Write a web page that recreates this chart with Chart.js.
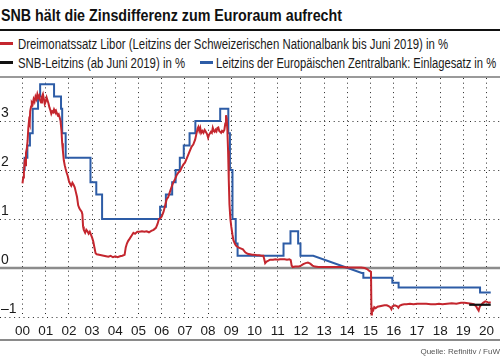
<!DOCTYPE html>
<html><head><meta charset="utf-8">
<script src="https://cdn.jsdelivr.net/npm/chart.js@4"></script>
<style>
html,body{margin:0;padding:0;background:#fff;}
body{width:500px;height:358px;position:relative;overflow:hidden;font-family:'Liberation Sans',Arial,sans-serif;color:#1a1a1a;}
.abs{position:absolute;white-space:nowrap;}
.narrow{transform-origin:0 0;}
#title{left:1px;top:7px;font-weight:bold;font-size:16.5px;line-height:17px;color:#111;transform:scaleX(0.865);}
.rule{position:absolute;left:0;width:500px;}
.leg{font-size:14px;line-height:14px;color:#1a1a1a;transform:scaleX(0.813);}
.sw{position:absolute;height:3px;width:13px;}
#src{right:0;top:348px;font-size:8px;line-height:8px;color:#555;}
#wrap{position:absolute;left:0;top:78px;width:500px;height:262px;}
</style></head>
<body>
<div id="title" class="abs narrow">SNB hält die Zinsdifferenz zum Euroraum aufrecht</div>
<div class="rule" style="top:29px;height:2px;background:#111;"></div>
<div class="sw" style="left:0;top:42px;background:#c4262e;"></div>
<div class="abs leg narrow" style="left:18px;top:36.5px;">Dreimonatssatz Libor (Leitzins der Schweizerischen Nationalbank bis Juni 2019) in %</div>
<div class="sw" style="left:0;top:61px;background:#111;"></div>
<div class="abs leg narrow" style="left:18px;top:55.5px;">SNB-Leitzins (ab Juni 2019) in %</div>
<div class="sw" style="left:200px;top:61px;background:#2d5ca6;"></div>
<div class="abs leg narrow" style="left:216px;top:55.5px;transform:scaleX(0.80);">Leitzins der Europäischen Zentralbank: Einlagesatz in %</div>
<div class="rule" style="top:76px;height:1.5px;background:#9a9a9a;"></div>
<div id="wrap"><canvas id="c" width="500" height="262"></canvas></div>
<div class="rule" style="top:339px;height:1.5px;background:#8a8a8a;"></div>
<div id="src" class="abs">Quelle: Refinitiv / FuW</div>
<script>
// ---- data ----
const tickYears = [2000,2001,2002,2003,2004,2005,2006,2007,2008,2009,2010,2011,2012,2013,2014,2015,2016,2017,2018,2019,2020];
const xTickLabels = ['00','01','02','03','04','05','06','07','08','09','10','11','12','13','14','15','16','17','18','19','20'];
const yTicks = [-1,0,1,2,3];
const yTickLabels = ['–1','0','1','2','3'];

// Dreimonatssatz Libor [year, %]
const libor = [
[2000.00,1.73],[2000.03,1.85],[2000.06,1.95],[2000.09,2.15],[2000.12,2.10],[2000.15,2.35],[2000.19,2.45],[2000.22,2.60],
[2000.25,2.85],[2000.28,3.00],[2000.31,2.95],[2000.33,3.20],[2000.37,3.30],[2000.40,3.38],[2000.44,3.35],[2000.48,3.45],
[2000.52,3.40],[2000.56,3.50],[2000.60,3.45],[2000.64,3.55],[2000.68,3.48],[2000.72,3.52],[2000.76,3.42],[2000.80,3.38],
[2000.84,3.50],[2000.88,3.55],[2000.92,3.45],[2000.96,3.35],[2001.00,3.40],[2001.04,3.48],[2001.08,3.42],[2001.12,3.36],
[2001.16,3.28],[2001.20,3.22],[2001.24,3.15],[2001.28,3.20],[2001.32,3.18],[2001.36,3.24],[2001.40,3.20],[2001.44,3.22],
[2001.48,3.16],[2001.52,3.12],[2001.56,3.14],[2001.60,3.08],[2001.64,3.00],[2001.68,2.80],[2001.71,2.55],[2001.74,2.40],
[2001.78,2.20],[2001.82,2.10],[2001.86,2.02],[2001.90,1.95],[2001.95,1.88],[2002.00,1.78],[2002.05,1.72],[2002.10,1.68],
[2002.15,1.74],[2002.20,1.70],[2002.25,1.65],[2002.30,1.55],[2002.35,1.45],[2002.40,1.28],[2002.45,1.22],[2002.50,1.18],
[2002.55,1.15],[2002.58,1.10],[2002.61,0.85],[2002.64,0.78],[2002.70,0.72],[2002.75,0.78],[2002.80,0.75],[2002.85,0.70],
[2002.90,0.74],[2002.95,0.68],[2003.00,0.62],[2003.05,0.54],[2003.10,0.42],[2003.15,0.30],[2003.20,0.28],[2003.30,0.27],
[2003.40,0.26],[2003.50,0.25],[2003.60,0.24],[2003.70,0.23],[2003.80,0.25],[2003.90,0.22],[2004.00,0.24],[2004.10,0.22],
[2004.20,0.24],[2004.30,0.25],[2004.40,0.27],[2004.45,0.42],[2004.50,0.50],[2004.55,0.55],[2004.62,0.60],[2004.70,0.66],
[2004.78,0.72],[2004.85,0.70],[2004.95,0.74],[2005.05,0.74],[2005.15,0.75],[2005.25,0.74],[2005.35,0.75],[2005.45,0.73],
[2005.55,0.76],[2005.65,0.78],[2005.75,0.82],[2005.82,0.90],[2005.88,1.00],[2005.95,1.02],[2006.00,1.05],[2006.08,1.15],
[2006.15,1.28],[2006.21,1.40],[2006.28,1.45],[2006.35,1.55],[2006.42,1.65],[2006.50,1.75],[2006.58,1.82],[2006.65,1.90],
[2006.72,1.95],[2006.79,1.98],[2006.86,2.05],[2006.93,2.11],[2007.00,2.15],[2007.08,2.24],[2007.15,2.32],[2007.22,2.40],
[2007.29,2.48],[2007.36,2.52],[2007.44,2.62],[2007.50,2.75],[2007.55,2.85],[2007.58,2.88],[2007.62,2.80],[2007.66,2.86],
[2007.70,2.76],[2007.75,2.80],[2007.80,2.76],[2007.85,2.82],[2007.90,2.78],[2007.95,2.74],[2008.00,2.66],[2008.04,2.72],
[2008.08,2.72],[2008.12,2.78],[2008.16,2.76],[2008.20,2.86],[2008.24,2.80],[2008.28,2.78],[2008.32,2.82],[2008.36,2.79],
[2008.40,2.86],[2008.44,2.87],[2008.48,2.80],[2008.52,2.78],[2008.56,2.76],[2008.60,2.80],[2008.65,2.78],[2008.70,2.82],
[2008.74,2.95],[2008.77,3.12],[2008.80,3.05],[2008.83,2.82],[2008.86,2.40],[2008.89,1.80],[2008.92,1.30],[2008.96,1.00],
[2009.00,0.84],[2009.05,0.68],[2009.09,0.57],[2009.15,0.50],[2009.20,0.46],[2009.30,0.42],[2009.40,0.40],[2009.50,0.38],
[2009.60,0.32],[2009.70,0.29],[2009.80,0.28],[2009.90,0.27],[2010.00,0.27],[2010.10,0.26],[2010.20,0.26],[2010.30,0.25],
[2010.38,0.25],[2010.42,0.18],[2010.46,0.10],[2010.52,0.13],[2010.60,0.15],[2010.67,0.17],[2010.80,0.17],[2010.90,0.18],
[2011.00,0.17],[2011.10,0.18],[2011.20,0.18],[2011.30,0.18],[2011.40,0.17],[2011.50,0.18],[2011.56,0.16],[2011.60,0.05],
[2011.65,0.02],[2011.75,0.03],[2011.90,0.03],[2012.00,0.05],[2012.10,0.08],[2012.20,0.10],[2012.30,0.11],[2012.40,0.09],
[2012.50,0.05],[2012.60,0.03],[2012.75,0.02],[2013.00,0.02],[2013.20,0.02],[2013.40,0.02],[2013.60,0.02],[2013.80,0.02],
[2014.00,0.01],[2014.20,0.01],[2014.40,0.01],[2014.60,0.01],[2014.75,0.00],[2014.85,-0.02],[2014.95,-0.06],[2015.02,-0.08],
[2015.04,-0.95],[2015.06,-0.88],[2015.09,-0.84],[2015.12,-0.86],[2015.16,-0.80],[2015.22,-0.82],[2015.30,-0.79],[2015.40,-0.78],
[2015.50,-0.77],[2015.60,-0.76],[2015.70,-0.76],[2015.78,-0.78],[2015.85,-0.80],[2015.90,-0.84],[2015.95,-0.78],[2016.05,-0.76],
[2016.15,-0.78],[2016.20,-0.81],[2016.25,-0.77],[2016.35,-0.75],[2016.45,-0.74],[2016.55,-0.74],[2016.70,-0.73],[2016.85,-0.74],
[2017.00,-0.73],[2017.20,-0.73],[2017.40,-0.73],[2017.60,-0.74],[2017.80,-0.74],[2017.95,-0.73],[2018.10,-0.74],[2018.30,-0.73],
[2018.50,-0.72],[2018.70,-0.73],[2018.90,-0.71],[2019.05,-0.71],[2019.20,-0.72],[2019.35,-0.73],[2019.45,-0.74],[2019.55,-0.78],
[2019.62,-0.84],[2019.66,-0.87],[2019.70,-0.80],[2019.75,-0.76],[2019.85,-0.71],[2019.95,-0.68],[2020.02,-0.69],[2020.10,-0.71],
[2020.18,-0.70]
];

// SNB-Leitzins (ab Juni 2019) [year, %]
const snbRate = [[2019.25,-0.75],[2020.18,-0.75]];

// EZB Einlagesatz, vertices of the stepped line [year, %]
const ecbDeposit = [
[2000.00,2.00],[2000.09,2.00],[2000.09,2.25],[2000.21,2.25],[2000.21,2.50],[2000.32,2.50],[2000.32,2.75],[2000.44,2.75],
[2000.44,3.25],[2000.67,3.25],[2000.67,3.50],[2000.76,3.50],[2000.76,3.75],[2001.36,3.75],[2001.36,3.50],[2001.66,3.50],
[2001.66,3.25],[2001.71,3.25],[2001.71,2.75],[2001.86,2.75],[2001.86,2.25],[2002.93,2.25],[2002.93,1.75],[2003.18,1.75],
[2003.18,1.50],[2003.43,1.50],[2003.43,1.00],[2005.93,1.00],[2005.93,1.25],[2006.18,1.25],[2006.18,1.50],[2006.45,1.50],
[2006.45,1.75],[2006.60,1.75],[2006.60,2.00],[2006.78,2.00],[2006.78,2.25],[2006.95,2.25],[2006.95,2.50],[2007.20,2.50],
[2007.20,2.75],[2007.45,2.75],[2007.45,3.00],[2008.52,3.00],[2008.52,3.25],[2008.87,3.25],[2008.87,2.75],[2008.94,2.75],
[2008.94,2.00],[2009.05,2.00],[2009.05,1.00],[2009.19,1.00],[2009.19,0.50],[2009.27,0.50],[2009.27,0.25],[2011.25,0.25],
[2011.25,0.50],[2011.55,0.50],[2011.55,0.75],[2011.88,0.75],[2011.88,0.50],[2011.98,0.50],[2011.98,0.25],[2012.53,0.25],
[2014.62,-0.10],[2014.69,-0.10],[2014.69,-0.20],[2015.94,-0.20],[2015.94,-0.30],[2016.21,-0.30],[2016.21,-0.40],[2019.72,-0.40],
[2019.72,-0.50],[2020.18,-0.50]
];

// ---- chart ----
const FONT = "'Liberation Sans',Arial,sans-serif";
const toXY = arr => arr.map(p => ({x: p[0], y: p[1]}));
const GRID = 'rgba(0,0,0,0.85)';

const zeroLine = {
  id: 'zeroLine',
  beforeDatasetsDraw(chart) {
    const y = chart.scales.y.getPixelForValue(0);
    const c = chart.ctx;
    c.save();
    c.strokeStyle = '#8c8c8c';
    c.lineWidth = 2.5;
    c.beginPath();
    c.moveTo(0, y);
    c.lineTo(chart.width, y);
    c.stroke();
    c.restore();
  }
};

new Chart(document.getElementById('c'), {
  type: 'line',
  data: {
    datasets: [
      {label: 'SNB-Leitzins (ab Juni 2019) in %', data: toXY(snbRate), borderColor: '#111111', borderWidth: 2.2, pointRadius: 0, order: 0},
      {label: 'Dreimonatssatz Libor', data: toXY(libor), borderColor: '#c4262e', borderWidth: 2, pointRadius: 0, order: 1},
      {label: 'EZB Einlagesatz', data: toXY(ecbDeposit), borderColor: '#2d5ca6', borderWidth: 2, pointRadius: 0, order: 2}
    ]
  },
  options: {
    responsive: false,
    animation: false,
    devicePixelRatio: 1,
    layout: {padding: 0},
    plugins: {legend: {display: false}, tooltip: {enabled: false}},
    scales: {
      x: {
        type: 'linear', min: 1999.03, max: 2020.58,
        afterBuildTicks: s => { s.ticks = tickYears.map(v => ({value: v})); },
        afterFit: s => { s.height = 23; s.paddingLeft = 0; s.paddingRight = 0; },
        ticks: {
          autoSkip: false, maxRotation: 0, minRotation: 0, padding: 6,
          font: {family: FONT, size: 13.5}, color: '#1a1a1a',
          callback: v => xTickLabels[tickYears.indexOf(v)]
        },
        grid: {color: GRID, lineWidth: 1, drawTicks: false},
        border: {display: false, dash: [1, 3.7]}
      },
      y: {
        type: 'linear', min: -1, max: 3.88,
        afterBuildTicks: s => { s.ticks = yTicks.map(v => ({value: v})); },
        afterFit: s => { s.width = 0; s.paddingTop = 0; s.paddingBottom = 0; },
        ticks: {
          mirror: true, padding: 1, labelOffset: -8,
          font: {family: FONT, size: 14}, color: '#1a1a1a',
          callback: v => yTickLabels[yTicks.indexOf(v)]
        },
        grid: {color: c => (c.tick && c.tick.value === 0) ? 'rgba(0,0,0,0)' : GRID, lineWidth: 1, drawTicks: false},
        border: {display: false, dash: [1, 3.7]}
      }
    }
  },
  plugins: [zeroLine]
});
</script>
</body></html>
